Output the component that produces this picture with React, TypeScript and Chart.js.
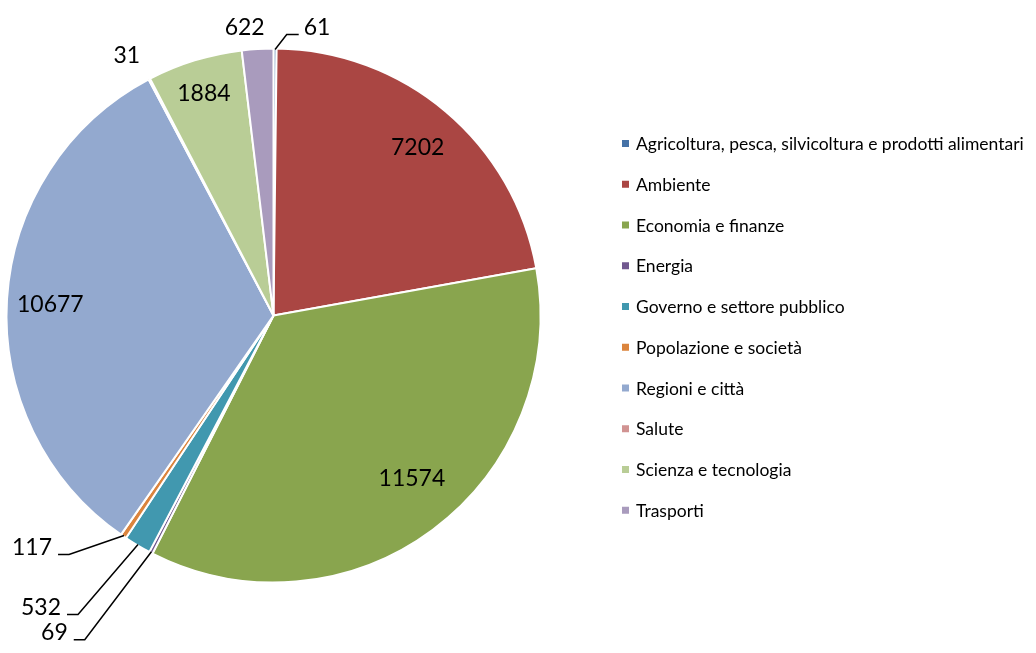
import React, { useEffect, useRef } from "react";
import { Chart, registerables } from "chart.js";

Chart.register(...registerables);

const categories = [
  "Agricoltura, pesca, silvicoltura e prodotti alimentari",
  "Ambiente",
  "Economia e finanze",
  "Energia",
  "Governo e settore pubblico",
  "Popolazione e società",
  "Regioni e città",
  "Salute",
  "Scienza e tecnologia",
  "Trasporti",
];

const values = [61, 7202, 11574, 69, 532, 117, 10677, 31, 1884, 622];

const colors = [
  "#4572A7",
  "#AA4643",
  "#89A54E",
  "#71588F",
  "#4198AF",
  "#DB843D",
  "#93A9CF",
  "#D19392",
  "#B9CD96",
  "#A99BBD",
];

// label placement: inside (fraction of radius + nudge) or outside (offset from arc edge, optional leader)
type Placement = { mode: "in"; r: number; dx: number; dy: number } | { mode: "out"; dx: number; dy: number; leader: boolean };
const labelPlacement: Placement[] = [
  { mode: "out", dx: 42, dy: -22, leader: true },
  { mode: "in", r: 0.83, dx: 1, dy: 1 },
  { mode: "in", r: 0.8, dx: 11, dy: -8 },
  { mode: "out", dx: -97, dy: 81, leader: true },
  { mode: "out", dx: -97, dy: 63, leader: true },
  { mode: "out", dx: -92, dy: 12, leader: true },
  { mode: "in", r: 0.83, dx: -2, dy: 3 },
  { mode: "out", dx: -23, dy: -24, leader: false },
  { mode: "in", r: 0.87, dx: -1, dy: 0 },
  { mode: "out", dx: -13, dy: -22, leader: false },
];

const LABEL_FONT = "23px Lato, 'Open Sans', sans-serif";
const LEGEND_FONT = "17.5px Lato, 'Open Sans', sans-serif";

const labelPlugin = {
  id: "sliceLabels",
  afterDatasetsDraw(chart: any) {
    const ctx = chart.ctx;
    const meta = chart.getDatasetMeta(0);
    const data = chart.data.datasets[0].data as number[];
    ctx.save();
    ctx.font = LABEL_FONT;
    ctx.fillStyle = "#000";
    ctx.textAlign = "center";
    ctx.textBaseline = "middle";
    ctx.strokeStyle = "#000";
    ctx.lineWidth = 1.5;
    meta.data.forEach((arc: any, i: number) => {
      const p = arc.getProps(["x", "y", "startAngle", "endAngle", "outerRadius"], true);
      const mid = (p.startAngle + p.endAngle) / 2;
      const pl = labelPlacement[i];
      const text = String(data[i]);
      if (pl.mode === "in") {
        const tx = p.x + Math.cos(mid) * p.outerRadius * pl.r + pl.dx;
        const ty = p.y + Math.sin(mid) * p.outerRadius * pl.r + pl.dy;
        ctx.fillText(text, tx, ty);
      } else {
        const ax = p.x + Math.cos(mid) * (p.outerRadius - 1);
        const ay = p.y + Math.sin(mid) * (p.outerRadius - 1);
        const tx = ax + pl.dx;
        const ty = ay + pl.dy;
        ctx.fillText(text, tx, ty);
        if (pl.leader) {
          const w = ctx.measureText(text).width;
          const ly = ty + 7;
          ctx.beginPath();
          if (pl.dx < 0) {
            const x0 = tx + w / 2 + 6;
            ctx.moveTo(x0, ly);
            ctx.lineTo(x0 + 11, ly);
          } else {
            const x0 = tx - w / 2 - 5;
            ctx.moveTo(x0, ly);
            ctx.lineTo(x0 - 12, ly);
          }
          ctx.lineTo(ax, ay);
          ctx.stroke();
        }
      }
    });
    ctx.restore();
  },
};

const legendPlugin = {
  id: "sideLegend",
  afterDraw(chart: any) {
    const ctx = chart.ctx;
    const ds = chart.data.datasets[0];
    const labels = chart.data.labels as string[];
    const x0 = 622;
    const y0 = 143.5;
    const step = 40.75;
    ctx.save();
    ctx.font = LEGEND_FONT;
    ctx.textAlign = "left";
    ctx.textBaseline = "middle";
    labels.forEach((lab, i) => {
      const y = y0 + i * step;
      ctx.fillStyle = ds.backgroundColor[i];
      ctx.fillRect(x0, y - 3.5, 7, 7);
      ctx.fillStyle = "#000";
      ctx.fillText(lab, x0 + 14, y + 1);
    });
    ctx.restore();
  },
};

export default function App() {
  const ref = useRef<HTMLCanvasElement | null>(null);
  useEffect(() => {
    if (!ref.current) return;
    const chart = new Chart(ref.current, {
      type: "pie",
      data: {
        labels: categories,
        datasets: [
          {
            data: values,
            backgroundColor: colors,
            borderColor: "#ffffff",
            borderWidth: 2,
            hoverBorderWidth: 2,
            hoverOffset: 0,
            offset: 0,
          },
        ],
      },
      options: {
        animation: false,
        responsive: true,
        maintainAspectRatio: false,
        events: [],
        layout: { padding: { left: 5.5, top: 47.5, right: 494.5, bottom: 69.5 } },
        plugins: {
          legend: { display: false },
          tooltip: { enabled: false },
        },
      },
      plugins: [labelPlugin, legendPlugin],
    });
    return () => chart.destroy();
  }, []);
  return (
    <div style={{ position: "absolute", left: 0, top: 0, width: 1036, height: 653, background: "#fff" }}>
      <canvas ref={ref} />
    </div>
  );
}
